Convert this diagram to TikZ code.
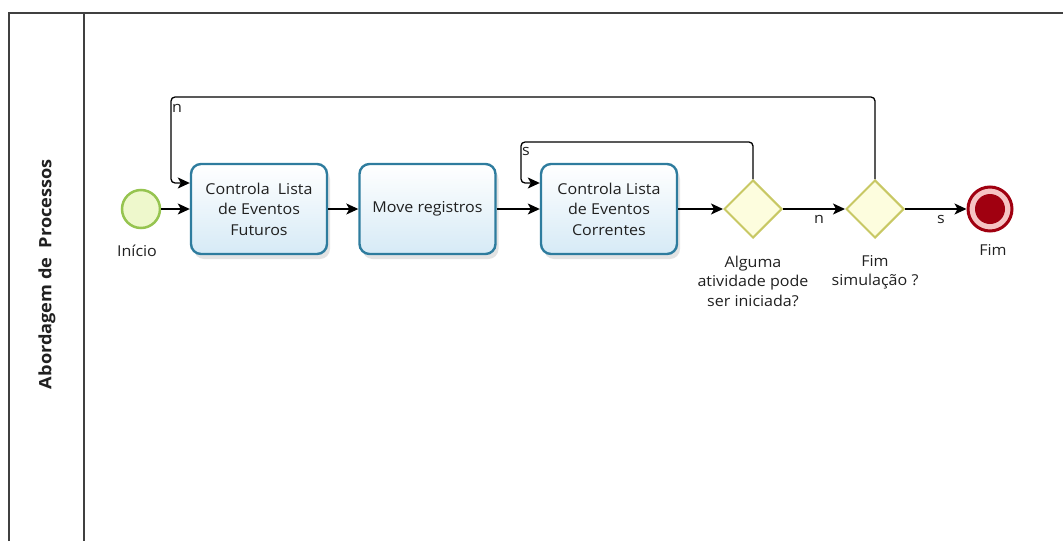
\documentclass[tikz,border=0pt]{standalone}
\usepackage{fontspec}
\setmainfont{Open Sans}[FakeStretch=1.07]
\usetikzlibrary{shapes.geometric,arrows.meta,shadows}

\definecolor{lanegray}{RGB}{64,64,64}
\definecolor{txt}{RGB}{32,32,32}
\definecolor{taskedge}{RGB}{46,124,158}
\definecolor{taskfill}{RGB}{214,234,246}
\definecolor{startedge}{RGB}{150,196,80}
\definecolor{startfill}{RGB}{238,248,204}
\definecolor{gateedge}{RGB}{200,200,100}
\definecolor{gatefill}{RGB}{253,253,222}
\definecolor{endred}{RGB}{160,0,16}
\definecolor{endring}{RGB}{246,196,196}

\begin{document}
\begin{tikzpicture}[x=1pt,y=-1pt,
  every node/.style={text=txt},
  lbl/.style={font=\fontsize{15}{19.5}\selectfont},
  task/.style={draw=taskedge, line width=2.4pt, rounded corners=10pt,
    top color=white, bottom color=taskfill, minimum width=136pt, minimum height=90pt,
    align=center, font=\fontsize{15}{20.5}\selectfont,
    drop shadow={shadow xshift=3pt, shadow yshift=-5pt, opacity=0.18, fill=black!60}},
  gate/.style={diamond, aspect=1, draw=gateedge, line width=2pt, fill=gatefill,
    minimum width=58pt, minimum height=58pt, inner sep=0pt},
  flow/.style={line width=1.3pt, draw=black, rounded corners=4pt,
    -{Stealth[length=12pt,width=11pt,inset=3pt]}},
]
\useasboundingbox (0,0) rectangle (1063,541);

% pool and lane borders
\draw[lanegray, line width=1.8pt] (9,541) -- (9,13) -- (1063,13);
\draw[lanegray, line width=1.8pt] (84,13) -- (84,541);
\node[rotate=90, font=\fontsize{17}{20}\selectfont\bfseries] (pool) at (47,274)
  {Abordagem de\hspace{0.55em}Processos};

% events
\node[circle, draw=startedge, line width=2.5pt, fill=startfill, minimum size=38pt,
  inner sep=0pt] (start) at (141,209) {};
\node[lbl] (startlbl) at (137,251) {Início};

\node[circle, draw=endred, line width=3pt, fill=endring, minimum size=44pt,
  inner sep=0pt] (end) at (990,209) {};
\node[circle, fill=endred, minimum size=30pt, inner sep=0pt] (endcore) at (990,209) {};
\node[lbl] (endlbl) at (993,250) {Fim};

% tasks
\node[task] (t1) at (259,209) {Controla\hspace{0.55em}Lista\\de Eventos\\Futuros};
\node[task] (t2) at (427.5,209) {Move registros};
\node[task] (t3) at (609,209) {Controla Lista\\de Eventos\\Correntes};

% gateways
\node[gate] (g1) at (753,209) {};
\node[gate] (g2) at (875,209) {};
\node[lbl, align=center] (g1lbl) at (753,281) {Alguma\\atividade pode\\ser iniciada?};
\node[lbl, align=center] (g2lbl) at (875,272.5) {Fim\\simulação ?};

% loop entry points, a little above the middle of the task's left side
\coordinate (t1in) at ([yshift=26pt]t1.west);
\coordinate (t3in) at ([yshift=26pt]t3.west);
\coordinate (nloop) at (171,97);
\coordinate (sloop) at (521,142);

% sequence flows
\draw[flow] (start) -- (t1);
\draw[flow] (t1) -- (t2);
\draw[flow] (t2) -- (t3);
\draw[flow] (t3) -- (g1);
\draw[flow] (g1) -- (g2);
\draw[flow] (g2) -- (end);
\draw[flow] (g2.north) -- (g2.north |- nloop) -- (nloop) -- (nloop |- t1in) -- (t1in);
\draw[flow] (g1.north) -- (g1.north |- sloop) -- (sloop) -- (sloop |- t3in) -- (t3in);

% flow labels
\node[lbl] (nlbl1) at (177,108) {n};
\node[lbl] (slbl1) at (526,151) {s};
\node[lbl] (nlbl2) at (819,219) {n};
\node[lbl] (slbl2) at (941,219) {s};
\end{tikzpicture}
\end{document}
